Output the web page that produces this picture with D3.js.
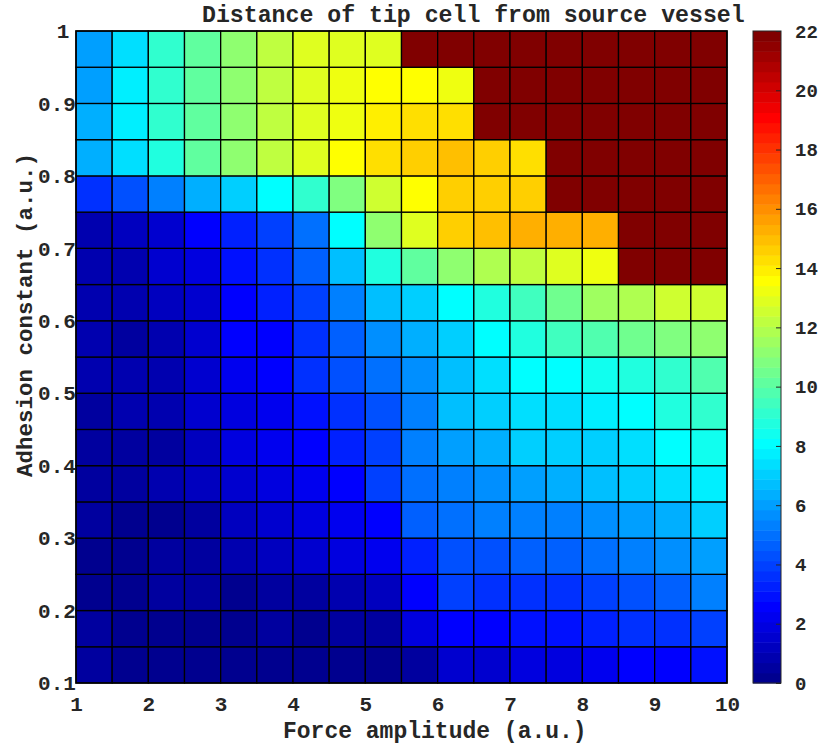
<!DOCTYPE html>
<html>
<head>
<meta charset="utf-8">
<title>Distance of tip cell from source vessel</title>
<script src="https://cdn.jsdelivr.net/npm/d3@7"></script>
<style>
  body { margin: 0; background: #fff; }
  svg text { font-family: "Liberation Mono", "Courier New", monospace; font-weight: bold; fill: #262626; }
</style>
</head>
<body>
<div id="chart"></div>
<script>
// grid edges (pcolor style, 19 edges -> 18 cells each way)
var forceEdges = [1, 1.5, 2, 2.5, 3, 3.5, 4, 4.5, 5, 5.5, 6, 6.5, 7, 7.5, 8, 8.5, 9, 9.5, 10];
var adhesionEdges = [0.1, 0.15, 0.2, 0.25, 0.3, 0.35, 0.4, 0.45, 0.5, 0.55, 0.6, 0.65, 0.7, 0.75, 0.8, 0.85, 0.9, 0.95, 1];

// distance of tip cell, one row per adhesion value (bottom row first)
var dist010 = [0.5,0.2,0.2,0.2,0.2,0.2,0.2,0.2,0.2,0.5,1.5,1.5,1.9,1.9,2.2,2.6,2.6,2.9];
var dist015 = [0.5,0.2,0.2,0.2,0.2,0.5,0.2,0.5,0.5,1.9,2.6,2.6,2.9,2.9,3.3,3.6,3.6,4.0];
var dist020 = [0.2,0.2,0.5,0.5,0.2,0.5,0.5,0.9,1.2,2.6,4.0,3.6,3.6,3.6,4.0,4.3,4.6,5.3];
var dist025 = [0.2,0.2,0.5,0.5,0.9,1.2,1.5,1.9,2.2,3.3,4.3,4.3,4.6,4.6,5.0,5.3,5.7,6.0];
var dist030 = [0.5,0.2,0.2,0.5,1.2,1.5,1.9,2.2,2.6,4.6,5.0,5.3,5.3,5.3,5.7,6.0,6.4,7.0];
var dist035 = [0.5,0.5,0.9,1.2,1.5,1.9,2.2,2.6,4.0,5.0,5.3,5.7,6.0,6.4,6.7,7.0,7.4,7.7];
var dist040 = [0.5,0.5,0.5,1.2,1.9,2.2,2.6,3.3,4.0,5.3,6.0,6.4,7.0,7.0,7.0,7.4,8.1,8.4];
var dist045 = [0.5,0.9,0.9,1.5,1.9,2.2,2.9,3.6,4.3,5.3,6.7,7.0,7.4,7.4,7.7,8.1,8.8,9.1];
var dist050 = [0.9,0.9,0.9,1.5,2.2,2.6,3.6,4.3,5.0,5.7,6.7,7.4,8.1,8.1,8.4,8.8,9.1,9.8];
var dist055 = [0.9,0.5,0.9,1.5,2.6,2.6,3.6,4.6,5.7,6.4,7.0,8.1,8.8,9.5,9.8,10.5,10.8,11.2];
var dist060 = [0.9,0.9,1.2,1.5,2.6,3.3,4.0,5.3,6.7,7.0,8.1,8.8,9.5,10.5,11.5,11.9,12.5,12.5];
var dist065 = [0.9,0.9,1.5,1.9,2.9,3.6,4.6,6.7,8.8,10.1,11.2,11.9,12.2,12.9,13.2,22,22,22];
var dist070 = [0.9,1.2,1.5,2.6,3.3,4.0,5.0,8.1,11.2,12.9,14.6,15.0,15.3,15.3,15.3,22,22,22];
var dist075 = [3.6,4.3,5.3,6.4,7.0,8.1,9.1,10.8,12.5,13.6,14.6,14.6,14.6,22,22,22,22,22];
var dist080 = [6.4,7.4,8.8,10.1,11.2,12.2,12.9,13.6,14.3,14.6,15.0,14.6,14.3,22,22,22,22,22];
var dist085 = [6.4,7.7,9.1,10.1,11.2,12.2,12.9,13.2,13.9,14.3,14.3,22,22,22,22,22,22,22];
var dist090 = [6.0,7.7,9.1,10.1,11.2,12.2,12.9,13.2,13.6,13.6,13.2,22,22,22,22,22,22,22];
var dist095 = [6.0,7.4,9.1,10.1,11.2,12.2,12.9,12.9,12.9,22,22,22,22,22,22,22,22,22];
var distance = [dist010, dist015, dist020, dist025, dist030, dist035, dist040, dist045, dist050,
                dist055, dist060, dist065, dist070, dist075, dist080, dist085, dist090, dist095];

var xTicks = [1, 2, 3, 4, 5, 6, 7, 8, 9, 10];
var yTicks = [0.1, 0.2, 0.3, 0.4, 0.5, 0.6, 0.7, 0.8, 0.9, 1];
var cTicks = [0, 2, 4, 6, 8, 10, 12, 14, 16, 18, 20, 22];
var cLimits = [0, 22];

var W = 819, H = 744;
var plot = {left: 76, top: 31, right: 727, bottom: 683};
var cbar = {left: 753, right: 781};

// matlab jet, 64 entries
var nColors = 64;
function jet(k) { // k = 1..64
  var t = k / nColors;
  var c = function(v) { return Math.round(255 * Math.max(0, Math.min(1, v))); };
  return d3.rgb(c(1.5 - Math.abs(4 * t - 3)), c(1.5 - Math.abs(4 * t - 2)), c(1.5 - Math.abs(4 * t - 1)));
}
function colorOf(v) {
  var k = Math.floor((v - cLimits[0]) / (cLimits[1] - cLimits[0]) * nColors) + 1;
  k = Math.max(1, Math.min(nColors, k));
  return jet(k);
}

var svg = d3.select("#chart").append("svg")
  .attr("width", W).attr("height", H);
svg.append("rect").attr("width", W).attr("height", H).attr("fill", "#fff");

var x = d3.scaleLinear().domain([1, 10]).range([plot.left, plot.right]);
var y = d3.scaleLinear().domain([0.1, 1]).range([plot.bottom, plot.top]);

// y tick labels go under the cells (matlab lets them overlap a bit)
var yAxis = svg.append("g")
  .attr("transform", "translate(" + plot.left + ",0)")
  .call(d3.axisLeft(y).tickValues(yTicks).tickSize(0).tickFormat(d3.format("~g")));
yAxis.select(".domain").remove();
yAxis.selectAll("text")
  .attr("font-size", 21)
  .attr("text-anchor", "start")
  .attr("dy", "0.32em")
  .attr("x", function() { return -10 - 0.74 * this.getComputedTextLength(); });

// cells
var cells = [];
distance.forEach(function(row, j) {
  row.forEach(function(v, i) {
    cells.push({i: i, j: j, v: v});
  });
});
svg.append("g").selectAll("rect")
  .data(cells)
  .enter().append("rect")
  .attr("x", function(d) { return x(forceEdges[d.i]); })
  .attr("y", function(d) { return y(adhesionEdges[d.j + 1]); })
  .attr("width", function(d) { return x(forceEdges[d.i + 1]) - x(forceEdges[d.i]); })
  .attr("height", function(d) { return y(adhesionEdges[d.j]) - y(adhesionEdges[d.j + 1]); })
  .attr("fill", function(d) { return colorOf(d.v); })
  .attr("stroke", "#000")
  .attr("stroke-width", 1.3);

svg.append("rect")
  .attr("x", plot.left).attr("y", plot.top)
  .attr("width", plot.right - plot.left).attr("height", plot.bottom - plot.top)
  .attr("fill", "none").attr("stroke", "#000").attr("stroke-width", 1.5);

// x tick labels
var xAxis = svg.append("g")
  .attr("transform", "translate(0," + plot.bottom + ")")
  .call(d3.axisBottom(x).tickValues(xTicks).tickSize(0).tickPadding(13));
xAxis.select(".domain").remove();
xAxis.selectAll("text").attr("font-size", 21);

// colorbar
var cy = d3.scaleLinear().domain(cLimits).range([plot.bottom, plot.top]);
var bands = d3.range(1, nColors + 1);
svg.append("g").selectAll("rect")
  .data(bands)
  .enter().append("rect")
  .attr("x", cbar.left)
  .attr("width", cbar.right - cbar.left)
  .attr("y", function(k) { return cy(cLimits[0] + k * (cLimits[1] - cLimits[0]) / nColors); })
  .attr("height", (plot.bottom - plot.top) / nColors + 0.5)
  .attr("fill", function(k) { return jet(k); });

var cAxis = svg.append("g")
  .attr("transform", "translate(" + cbar.right + ",0)")
  .call(d3.axisRight(cy).tickValues(cTicks).tickSize(-5).tickPadding(14));
cAxis.select(".domain").remove();
cAxis.selectAll("line").attr("stroke", "#262626");
cAxis.selectAll("text").attr("font-size", 19);

svg.append("rect")
  .attr("x", cbar.left).attr("y", plot.top)
  .attr("width", cbar.right - cbar.left).attr("height", plot.bottom - plot.top)
  .attr("fill", "none").attr("stroke", "#262626").attr("stroke-width", 1);

// titles
svg.append("text")
  .attr("x", 202).attr("y", 22)
  .attr("font-size", 23.2)
  .text("Distance of tip cell from source vessel");

svg.append("text")
  .attr("x", 283).attr("y", 738)
  .attr("font-size", 23)
  .text("Force amplitude (a.u.)");

svg.append("text")
  .attr("transform", "translate(32,477) rotate(-90)")
  .attr("font-size", 22.5)
  .text("Adhesion constant (a.u.)");
</script>
</body>
</html>
